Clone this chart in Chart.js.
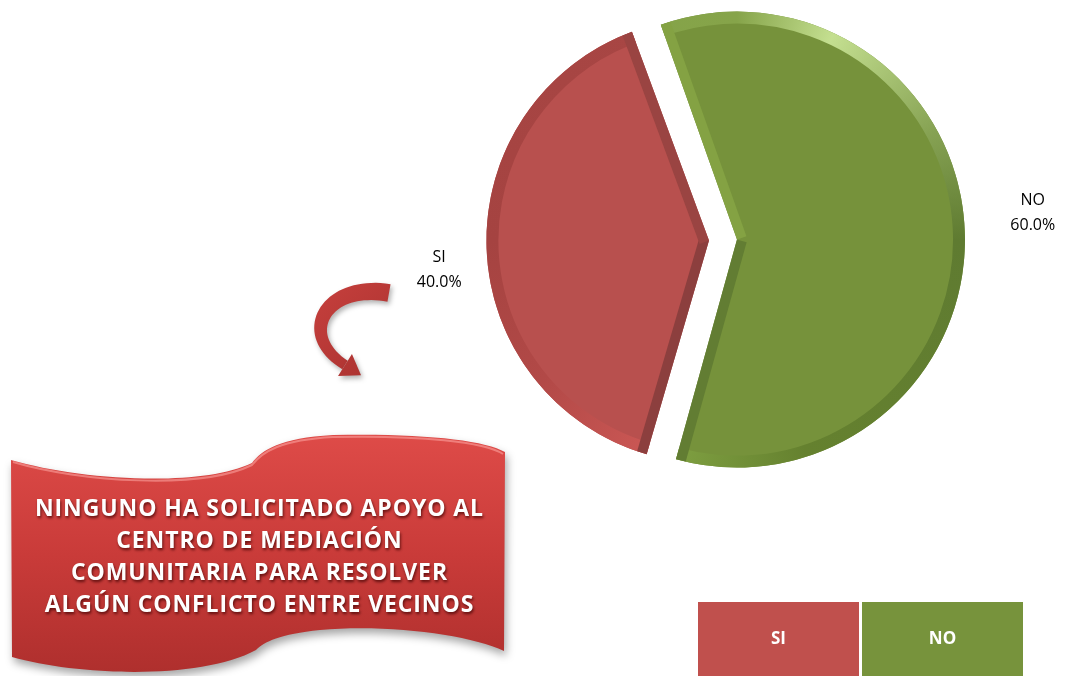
<!DOCTYPE html>
<html><head><meta charset="utf-8">
<style>html,body{margin:0;padding:0;background:#fff;overflow:hidden}</style>
<script src="https://cdn.jsdelivr.net/npm/chart.js@4.4.1/dist/chart.umd.min.js"></script>
</head><body>
<canvas id="c" width="1065" height="676"></canvas>
<script>
const categories = ['SI', 'NO'];
const values = [40.0, 60.0];
const sliceColors = ['#B8504E', '#76923B'];
const legendColors = ['#C0504D', '#77933C'];
const noteLines = ['NINGUNO HA SOLICITADO APOYO AL', 'CENTRO DE MEDIACIÓN', 'COMUNITARIA PARA RESOLVER', 'ALGÚN CONFLICTO ENTRE VECINOS'];

// bevel styling: [startEdge, endEdge] colours and conic rim stops
const edgeColors = [['#8C3F3E', '#9A4442'], ['#84A243', '#627D33']];
const rimStops = [
  [[0, '#A84644'], [0.54, '#CC5855'], [0.64, '#B24947'], [0.75, '#A54341'], [0.95, '#A84644'], [1, '#A84644']],
  [[0, '#86A44A'], [0.07, '#C4DF90'], [0.17, '#86A253'], [0.25, '#5F7B31'], [0.45, '#65812F'], [0.55, '#80A142'], [0.7, '#80A142'], [1, '#86A44A']]
];

const bevel = {
  id: 'bevel',
  afterDatasetsDraw(chart, args, opts) {
    const meta = chart.getDatasetMeta(0);
    const ctx = chart.ctx;
    meta.data.forEach((arc, i) => {
      const p = arc.getProps(['x', 'y', 'startAngle', 'endAngle', 'outerRadius', 'circumference'], true);
      const off = (arc.options.offset || 0) / 4;
      const mid = (p.startAngle + p.endAngle) / 2;
      const fix = 1 - Math.sin(Math.min(Math.PI, p.circumference));
      const R = p.outerRadius + off * fix;
      const cx = p.x + Math.cos(mid) * off, cy = p.y + Math.sin(mid) * off;
      const alpha = p.endAngle - p.startAngle;
      const beta = Math.max(0.001, alpha * R - off * fix / Math.PI) / R;
      const a0 = p.startAngle + (alpha - beta) / 2, a1 = p.endAngle - (alpha - beta) / 2;
      ctx.save();
      ctx.beginPath(); ctx.moveTo(cx, cy); ctx.arc(cx, cy, R, a0, a1); ctx.closePath(); ctx.clip();
      const cg = ctx.createConicGradient(-Math.PI / 2, cx, cy);
      rimStops[i].forEach(s => cg.addColorStop(s[0], s[1]));
      ctx.strokeStyle = cg; ctx.lineWidth = opts.rim * 2;
      ctx.beginPath(); ctx.arc(cx, cy, R, a0 - 0.1, a1 + 0.1); ctx.stroke();
      ctx.lineWidth = opts.edge * 2; ctx.lineCap = 'butt';
      [a0, a1].forEach((a, k) => {
        ctx.strokeStyle = edgeColors[i][k];
        ctx.beginPath(); ctx.moveTo(cx, cy); ctx.lineTo(cx + Math.cos(a) * R, cy + Math.sin(a) * R); ctx.stroke();
      });
      ctx.restore();
    });
  }
};

const pieLabels = {
  id: 'pieLabels',
  afterDatasetsDraw(chart, args, opts) {
    const meta = chart.getDatasetMeta(0);
    const data = chart.data.datasets[0].data;
    const total = data.reduce((a, b) => a + b, 0);
    const ctx = chart.ctx;
    ctx.save();
    ctx.font = opts.font; ctx.fillStyle = opts.color;
    ctx.textAlign = 'center'; ctx.textBaseline = 'middle';
    meta.data.forEach((arc, i) => {
      const p = arc.getProps(['x', 'y', 'startAngle', 'endAngle', 'outerRadius'], true);
      const mid = (p.startAngle + p.endAngle) / 2;
      const d = p.outerRadius + opts.distance[i];
      const cx = p.x + Math.cos(mid) * d + opts.shift[i][0];
      const cy = p.y + Math.sin(mid) * d + opts.shift[i][1];
      ctx.fillText(chart.data.labels[i], cx, cy - opts.lineHeight / 2);
      ctx.fillText((data[i] / total * 100).toFixed(1) + '%', cx, cy + opts.lineHeight / 2);
    });
    ctx.restore();
  }
};

const boxLegend = {
  id: 'boxLegend',
  afterDraw(chart, args, opts) {
    const ctx = chart.ctx;
    ctx.save();
    chart.data.labels.forEach((lab, i) => {
      const x = opts.x + i * (opts.w + opts.gap);
      ctx.fillStyle = legendColors[i];
      ctx.fillRect(x, opts.y, opts.w, opts.h);
      ctx.fillStyle = '#FFFFFF';
      ctx.font = opts.font;
      ctx.textAlign = 'center'; ctx.textBaseline = 'middle';
      ctx.fillText(lab, x + opts.w / 2, opts.textY);
    });
    ctx.restore();
  }
};

const banner = {
  id: 'banner',
  afterDraw(chart) {
    const ctx = chart.ctx;
    ctx.save();
    // curved arrow
    const P0 = [389, 293], P1 = [326, 282], P2 = [296, 334], P3 = [345, 365];
    const bz = (t, k) => { const u = 1 - t; return u*u*u*P0[k] + 3*u*u*t*P1[k] + 3*u*t*t*P2[k] + t*t*t*P3[k]; };
    const dz = (t, k) => { const u = 1 - t; return 3*u*u*(P1[k]-P0[k]) + 6*u*t*(P2[k]-P1[k]) + 3*t*t*(P3[k]-P2[k]); };
    const left = [], right = [];
    const N = 40;
    for (let s = 0; s <= N; s++) {
      const t = s / N;
      const x = bz(t, 0), y = bz(t, 1);
      let dx = dz(t, 0), dy = dz(t, 1);
      const L = Math.hypot(dx, dy); dx /= L; dy /= L;
      const w = (18 - 8 * t) / 2;
      left.push([x - dy * w, y + dx * w]);
      right.push([x + dy * w, y - dx * w]);
    }
    let ex = dz(1, 0), ey = dz(1, 1); const EL = Math.hypot(ex, ey); ex /= EL; ey /= EL;
    ctx.shadowColor = 'rgba(0,0,0,0.3)'; ctx.shadowBlur = 5; ctx.shadowOffsetX = 2; ctx.shadowOffsetY = 3;
    const ag = ctx.createLinearGradient(300, 283, 390, 380);
    ag.addColorStop(0, '#C9413E'); ag.addColorStop(1, '#A8312F');
    ctx.fillStyle = ag;
    ctx.beginPath();
    left.forEach((p, i) => i ? ctx.lineTo(p[0], p[1]) : ctx.moveTo(p[0], p[1]));
    for (let i = right.length - 1; i >= 0; i--) ctx.lineTo(right[i][0], right[i][1]);
    ctx.closePath(); ctx.fill();
    ctx.beginPath();
    ctx.moveTo(P3[0] - ey * 13, P3[1] + ex * 13);
    ctx.lineTo(P3[0] + ex * 19, P3[1] + ey * 19);
    ctx.lineTo(P3[0] + ey * 13, P3[1] - ex * 13);
    ctx.closePath(); ctx.fill();

    // ribbon banner
    ctx.shadowColor = 'rgba(0,0,0,0.35)'; ctx.shadowBlur = 8; ctx.shadowOffsetX = 2; ctx.shadowOffsetY = 5;
    const g = ctx.createLinearGradient(0, 435, 0, 676);
    g.addColorStop(0, '#DE4B48'); g.addColorStop(0.5, '#C93B39'); g.addColorStop(1, '#AE2F2D');
    ctx.fillStyle = g;
    ctx.beginPath();
    ctx.moveTo(11, 460);
    ctx.bezierCurveTo(80, 480, 200, 488, 252, 463);
    ctx.bezierCurveTo(262, 450, 280, 438, 333, 435);
    ctx.bezierCurveTo(420, 433, 485, 440, 505, 452);
    ctx.lineTo(504, 651);
    ctx.bezierCurveTo(470, 635, 390, 624, 320, 630);
    ctx.bezierCurveTo(280, 634, 264, 642, 256, 650);
    ctx.bezierCurveTo(200, 680, 80, 676, 12, 657);
    ctx.closePath(); ctx.fill();
    ctx.shadowColor = 'transparent';
    // glossy top highlight
    ctx.strokeStyle = 'rgba(255,170,165,0.55)'; ctx.lineWidth = 2;
    ctx.beginPath();
    ctx.moveTo(13, 462);
    ctx.bezierCurveTo(80, 482, 200, 490, 252, 465);
    ctx.bezierCurveTo(262, 452, 280, 440, 333, 437);
    ctx.bezierCurveTo(420, 435, 485, 442, 503, 454);
    ctx.stroke();

    // text
    ctx.font = 'bold 23px "Open Sans"';
    const baseW = ctx.measureText(noteLines[0]).width;
    const sp = Math.max(0, (448 - baseW) / (noteLines[0].length - 1));
    ctx.letterSpacing = sp.toFixed(2) + 'px';
    ctx.fillStyle = '#FFFFFF';
    ctx.textAlign = 'center'; ctx.textBaseline = 'middle';
    ctx.shadowColor = 'rgba(60,0,0,0.75)'; ctx.shadowBlur = 3; ctx.shadowOffsetX = 1; ctx.shadowOffsetY = 2;
    noteLines.forEach((ln, i) => ctx.fillText(ln, 259 + sp / 2, 509 + i * 32.3));
    ctx.restore();
  }
};

new Chart(document.getElementById('c'), {
  type: 'pie',
  data: {
    labels: categories,
    datasets: [{
      data: values,
      backgroundColor: sliceColors,
      borderWidth: 0,
      offset: [64, 48]
    }]
  },
  options: {
    responsive: false,
    animation: false,
    devicePixelRatio: 1,
    rotation: 196,
    radius: 216,
    layout: { padding: { left: 402, right: 17, top: 10, bottom: 206 } },
    plugins: {
      legend: { display: false },
      tooltip: { enabled: false },
      bevel: { rim: 12, edge: 10 },
      pieLabels: { font: '16px "Open Sans"', color: '#000000', lineHeight: 25, distance: [70, 92], shift: [[0, 20], [0, -16]] },
      boxLegend: { x: 698, y: 602, w: 161, h: 80, gap: 3, textY: 639, font: 'bold 17px "Open Sans"' }
    }
  },
  plugins: [bevel, pieLabels, boxLegend, banner]
});
</script>
</body></html>
